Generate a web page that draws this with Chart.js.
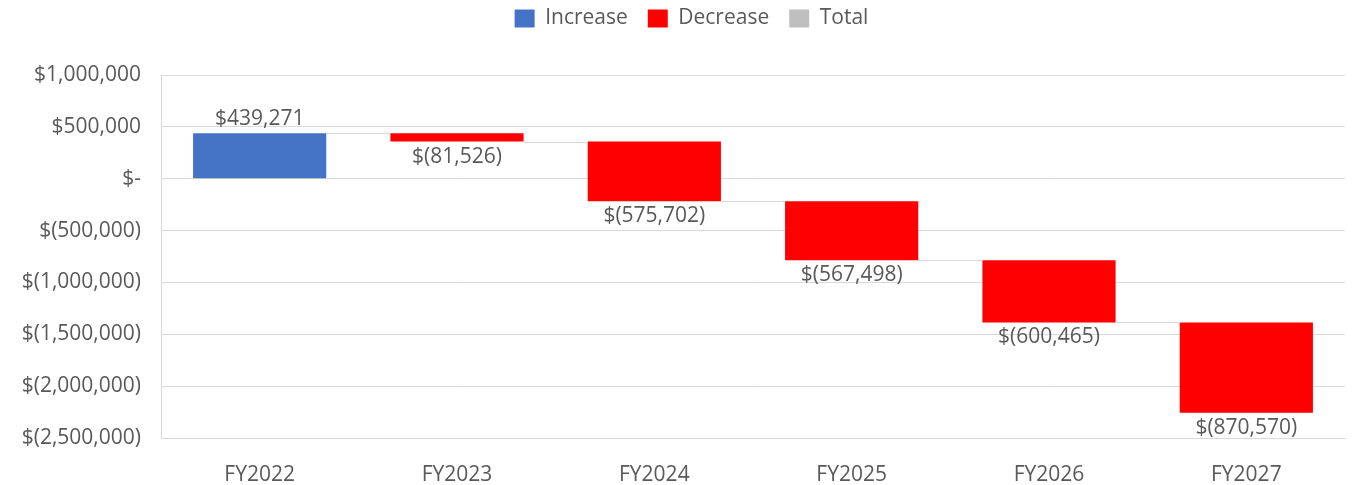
<!DOCTYPE html>
<html>
<head>
<meta charset="utf-8">
<script src="https://cdn.jsdelivr.net/npm/chart.js@4/dist/chart.umd.min.js"></script>
<style>
  html, body { margin: 0; padding: 0; background: #fff; }
  #wrap { width: 1358px; height: 485px; position: relative; }
</style>
</head>
<body>
<div id="wrap"><canvas id="waterfall"></canvas></div>
<script>
// Chart data
const categories = ['FY2022', 'FY2023', 'FY2024', 'FY2025', 'FY2026', 'FY2027'];
const changes = [439271, -81526, -575702, -567498, -600465, -870570];
const legendNames = ['Increase', 'Decrease', 'Total'];

const upColor = '#4472c4';
const downColor = '#ff0000';
const totalColor = '#bfbfbf';
const textColor = '#595959';
const gridColor = '#d9d9d9';
const fontFamily = "'Open Sans', 'Noto Sans', sans-serif";

// running totals -> floating bars [start, end]
const ranges = [];
let running = 0;
changes.forEach(v => {
    ranges.push([running, running + v]);
    running += v;
});

function money(v) {
    if (v === 0) return '$-';
    const s = Math.abs(v).toLocaleString('en-US');
    return v < 0 ? '$(' + s + ')' : '$' + s;
}

// connector lines + value labels
const waterfallExtras = {
    id: 'waterfallExtras',
    afterInit(chart) {
        // leave room between legend and plot area like the original
        const fit = chart.legend.fit;
        chart.legend.fit = function () {
            fit.call(this);
            this.height = 87;
        };
    },
    afterLayout(chart) {
        // legend sits a little right of centre in the original
        chart.legend.left += 19;
        chart.legend.right += 19;
    },
    afterDatasetsDraw(chart) {
        const ctx = chart.ctx;
        const meta = chart.getDatasetMeta(0);
        const y = chart.scales.y;
        ctx.save();
        ctx.strokeStyle = gridColor;
        ctx.lineWidth = 1;
        for (let i = 0; i < meta.data.length - 1; i++) {
            const a = meta.data[i], b = meta.data[i + 1];
            const py = Math.round(y.getPixelForValue(ranges[i][1])) + 0.5;
            ctx.beginPath();
            ctx.moveTo(a.x + a.width / 2, py);
            ctx.lineTo(b.x - b.width / 2, py);
            ctx.stroke();
        }
        ctx.fillStyle = textColor;
        ctx.font = '21px ' + fontFamily;
        ctx.textAlign = 'center';
        ctx.textBaseline = 'middle';
        meta.data.forEach((bar, i) => {
            const v = changes[i];
            const py = y.getPixelForValue(ranges[i][1]);
            ctx.fillText(money(v), bar.x, v >= 0 ? py - 14 : py + 15);
        });
        ctx.restore();
    }
};

new Chart(document.getElementById('waterfall'), {
    type: 'bar',
    data: {
        labels: categories,
        datasets: [{
            data: ranges,
            backgroundColor: changes.map(v => v >= 0 ? upColor : downColor),
            borderWidth: 0,
            barPercentage: 0.675,
            categoryPercentage: 1.0
        }]
    },
    options: {
        responsive: true,
        maintainAspectRatio: false,
        animation: false,
        layout: { padding: { left: 0, right: 13, top: -12, bottom: 0 } },
        plugins: {
            tooltip: { enabled: false },
            legend: {
                position: 'top',
                labels: {
                    color: textColor,
                    font: { size: 21, family: fontFamily },
                    boxWidth: 20,
                    boxHeight: 18,
                    padding: 20,
                    generateLabels: () => legendNames.map((n, i) => ({
                        text: n,
                        fillStyle: [upColor, downColor, totalColor][i],
                        strokeStyle: 'transparent',
                        lineWidth: 0,
                        fontColor: textColor,
                        datasetIndex: 0
                    }))
                },
                onClick: null
            }
        },
        scales: {
            x: {
                afterFit: s => { s.height = 47; },
                grid: { display: false },
                border: { color: gridColor },
                ticks: { color: textColor, font: { size: 21, family: fontFamily }, padding: 16 }
            },
            y: {
                min: -2500000,
                max: 1000000,
                afterFit: s => { s.width = 161; },
                grid: { color: gridColor, drawTicks: false },
                border: { color: gridColor },
                ticks: {
                    stepSize: 500000,
                    color: textColor,
                    font: { size: 21, family: fontFamily },
                    padding: 20,
                    callback: v => money(v)
                }
            }
        }
    },
    plugins: [waterfallExtras]
});
</script>
</body>
</html>
